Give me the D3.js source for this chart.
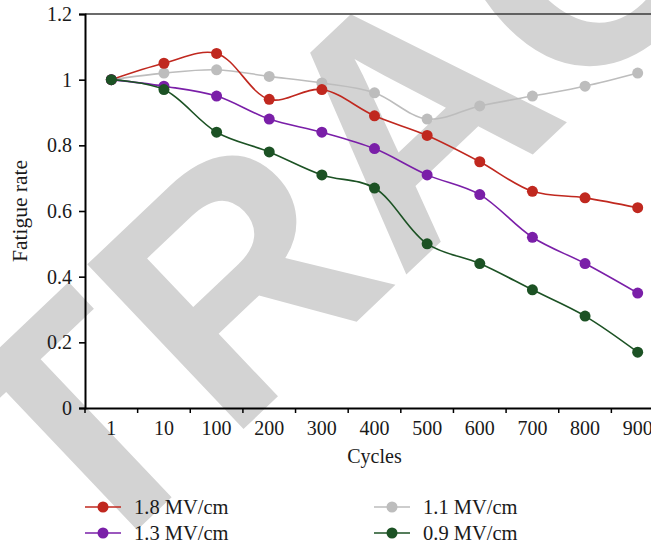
<!DOCTYPE html>
<html>
<head>
<meta charset="utf-8">
<script src="https://cdn.jsdelivr.net/npm/d3@7"></script>
<style>
  html, body { margin: 0; padding: 0; background: #fff; }
  svg { display: block; }
</style>
</head>
<body>
<svg id="chart" width="651" height="546"></svg>
<script>
const categories = ["1", "10", "100", "200", "300", "400", "500", "600", "700", "800", "900"];
const series18 = [1.00, 1.05, 1.08, 0.94, 0.97, 0.89, 0.83, 0.75, 0.66, 0.64, 0.61];
const series11 = [1.00, 1.02, 1.03, 1.01, 0.99, 0.96, 0.88, 0.92, 0.95, 0.98, 1.02];
const series13 = [1.00, 0.98, 0.95, 0.88, 0.84, 0.79, 0.71, 0.65, 0.52, 0.44, 0.35];
const series09 = [1.00, 0.97, 0.84, 0.78, 0.71, 0.67, 0.50, 0.44, 0.36, 0.28, 0.17];
const seriesNames = ["1.8 MV/cm", "1.1 MV/cm", "1.3 MV/cm", "0.9 MV/cm"];
const yTicks = [0, 0.2, 0.4, 0.6, 0.8, 1, 1.2];
const xTitle = "Cycles";
const yTitle = "Fatigue rate";
const watermark = "RETRACTED";

const colors = {"1.8 MV/cm": "#c0281f", "1.1 MV/cm": "#bdbdbd", "1.3 MV/cm": "#7a1fa8", "0.9 MV/cm": "#1c5224"};
const seriesData = {"1.8 MV/cm": series18, "1.1 MV/cm": series11, "1.3 MV/cm": series13, "0.9 MV/cm": series09};

(function draw() {
const svg = d3.select("#chart");
const serif = "'Liberation Serif', 'Times New Roman', serif";

// watermark (behind)
svg.append("text")
  .attr("transform", "translate(405,112) rotate(-43.5)")
  .attr("x", 0).attr("y", 0)
  .attr("dy", "0.36em")
  .attr("text-anchor", "middle")
  .attr("font-family", "'Liberation Sans', Arial, sans-serif")
  .attr("font-weight", "bold")
  .attr("font-size", 330)
  .attr("fill", "#d3d3d3")
  .text(watermark);

const mLeft = 85, mTop = 14, mBottom = 408, mRight = 664;
const x = d3.scaleBand().domain(categories).range([mLeft, mRight]).paddingInner(0).paddingOuter(0);
const y = d3.scaleLinear().domain([0, 1.2]).range([mBottom, mTop]);

// top border
svg.append("line").attr("x1", mLeft).attr("x2", 651).attr("y1", mTop).attr("y2", mTop)
  .attr("stroke", "#3a3a3a").attr("stroke-width", 1.3);

// y axis
const yAxis = svg.append("g").attr("transform", `translate(${mLeft},0)`)
  .call(d3.axisLeft(y).tickValues(yTicks).tickFormat(d => String(+d.toFixed(1))).tickSizeOuter(0).tickSize(6).tickPadding(7));
yAxis.select(".domain").attr("stroke", "#000").attr("stroke-width", 2);
yAxis.selectAll(".tick line").attr("stroke", "#000").attr("stroke-width", 1.6);
yAxis.selectAll(".tick text").attr("font-family", serif).attr("font-size", 20).attr("fill", "#1a1a1a");

// x axis
const xAxis = svg.append("g").attr("transform", `translate(0,${mBottom})`)
  .call(d3.axisBottom(x).tickSize(0).tickPadding(13).tickSizeOuter(0));
xAxis.select(".domain").attr("stroke", "#000").attr("stroke-width", 2);
xAxis.selectAll(".tick text").attr("font-family", serif).attr("font-size", 20).attr("fill", "#1a1a1a");
const boundaries = categories.map(c => x(c));
xAxis.selectAll(".bt").data(boundaries).enter().append("line")
  .attr("x1", d => d).attr("x2", d => d).attr("y1", 0).attr("y2", 5)
  .attr("stroke", "#000").attr("stroke-width", 1.5);

// titles
svg.append("text").attr("x", (mLeft + mRight) / 2).attr("y", 463)
  .attr("text-anchor", "middle").attr("font-family", serif).attr("font-size", 20).attr("fill", "#1a1a1a").text(xTitle);
svg.append("text").attr("transform", `translate(27,${(mTop + mBottom) / 2}) rotate(-90)`)
  .attr("text-anchor", "middle").attr("font-family", serif).attr("font-size", 21.5).attr("fill", "#1a1a1a").text(yTitle);

// lines
const line = d3.line()
  .x((d, i) => x(categories[i]) + x.bandwidth() / 2)
  .y(d => y(d))
  .curve(d3.curveCatmullRom.alpha(0.5));

const drawOrder = ["1.1 MV/cm", "1.8 MV/cm", "1.3 MV/cm", "0.9 MV/cm"];
drawOrder.forEach(name => {
  const vals = seriesData[name];
  const g = svg.append("g");
  g.append("path").attr("d", line(vals)).attr("fill", "none")
    .attr("stroke", colors[name]).attr("stroke-width", 1.6);
  g.selectAll("circle").data(vals).enter().append("circle")
    .attr("cx", (d, i) => x(categories[i]) + x.bandwidth() / 2)
    .attr("cy", d => y(d))
    .attr("r", 5.5)
    .attr("fill", colors[name]);
});

// legend
const legendItems = [
  {name: seriesNames[0], lx: 85, ly: 507},
  {name: seriesNames[1], lx: 374, ly: 507},
  {name: seriesNames[2], lx: 85, ly: 533},
  {name: seriesNames[3], lx: 374, ly: 533}
];
legendItems.forEach(it => {
  const g = svg.append("g").attr("transform", `translate(${it.lx},${it.ly})`);
  g.append("line").attr("x1", 0).attr("x2", 36).attr("y1", 0).attr("y2", 0)
    .attr("stroke", colors[it.name]).attr("stroke-width", 1.6);
  g.append("circle").attr("cx", 18).attr("cy", 0).attr("r", 5.5).attr("fill", colors[it.name]);
  g.append("text").attr("x", 49).attr("y", 0).attr("dy", "0.35em")
    .attr("font-family", serif).attr("font-size", 20.5).attr("fill", "#1a1a1a").text(it.name);
});
})();
</script>
</body>
</html>
